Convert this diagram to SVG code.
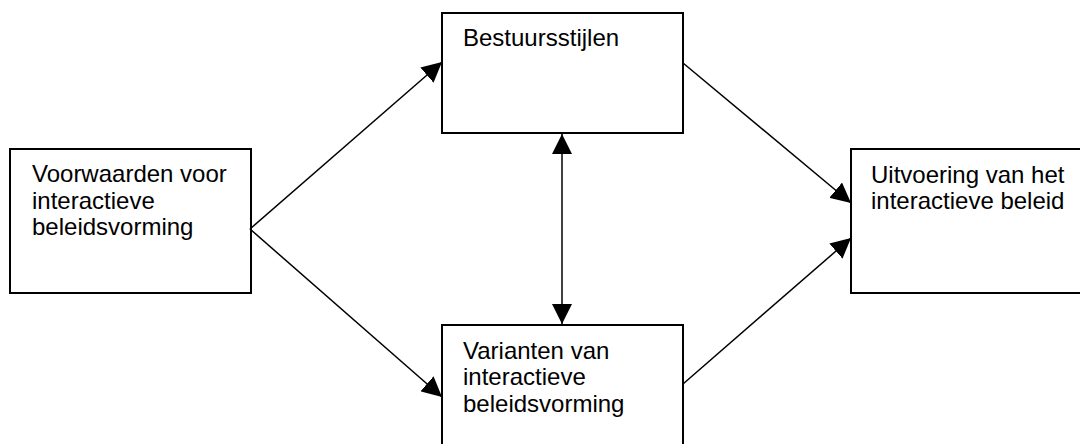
<svg xmlns="http://www.w3.org/2000/svg" width="1080" height="444" viewBox="0 0 1080 444">
<style>
.box{fill:#fff;stroke:#000;stroke-width:2}
.lbl{font-family:"Liberation Sans",Arial,sans-serif;font-size:24px;fill:#000}
.conn{stroke:#000;stroke-width:1.5;fill:none}
</style>
<defs>
<marker id="ah" markerUnits="userSpaceOnUse" markerWidth="20" markerHeight="20" refX="20" refY="10" orient="auto-start-reverse" viewBox="0 0 20 20">
<path d="M0,0 L20,10 L0,20 z" fill="#000"/>
</marker>
</defs>
<rect width="1080" height="444" fill="#fff"/>
<g id="voorwaarden">
<rect class="box" x="10" y="149" width="241" height="144"/>
<text class="lbl" x="32" y="182">Voorwaarden voor</text>
<text class="lbl" x="32" y="208.5">interactieve</text>
<text class="lbl" x="32" y="235">beleidsvorming</text>
</g>
<g id="bestuursstijlen">
<rect class="box" x="442" y="13" width="241" height="120"/>
<text class="lbl" x="463" y="46">Bestuursstijlen</text>
</g>
<g id="varianten">
<rect class="box" x="442" y="325" width="241" height="130"/>
<text class="lbl" x="463" y="358.5">Varianten van</text>
<text class="lbl" x="463" y="385">interactieve</text>
<text class="lbl" x="463" y="411.5">beleidsvorming</text>
</g>
<g id="uitvoering">
<rect class="box" x="851" y="149" width="240" height="144"/>
<text class="lbl" x="871" y="182.5">Uitvoering van het</text>
<text class="lbl" x="871" y="209">interactieve beleid</text>
</g>
<g id="connectors">
<line class="conn" x1="250" y1="229" x2="442" y2="62" marker-end="url(#ah)"/>
<line class="conn" x1="250" y1="229" x2="442" y2="397" marker-end="url(#ah)"/>
<line class="conn" x1="683" y1="63" x2="851" y2="203" marker-end="url(#ah)"/>
<line class="conn" x1="683" y1="384" x2="851" y2="238" marker-end="url(#ah)"/>
<line class="conn" x1="562" y1="134" x2="562" y2="324" marker-start="url(#ah)" marker-end="url(#ah)"/>
</g>
</svg>
